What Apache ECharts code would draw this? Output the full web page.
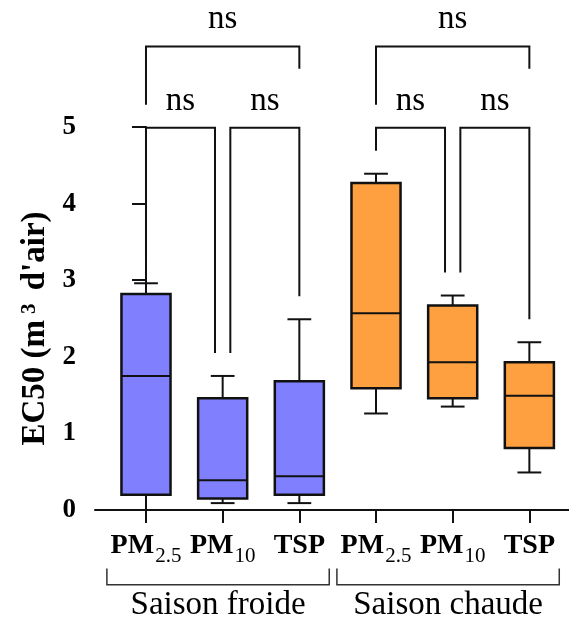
<!DOCTYPE html>
<html><head><meta charset="utf-8">
<script src="https://cdn.jsdelivr.net/npm/echarts@6/dist/echarts.min.js"></script>
<style>html,body{margin:0;padding:0;background:#fff}#c{width:569px;height:623px}</style>
</head><body><div id="c"></div>
<script>
// ---- data ----
const categories = ['PM2.5', 'PM10', 'TSP', 'PM2.5', 'PM10', 'TSP'];
const seasonNames = ['Saison froide', 'Saison chaude'];
const seasonOfCategory = [0, 0, 0, 1, 1, 1];
const minValues    = [0.20, 0.09, 0.09, 1.26, 1.35, 0.49];
const q1Values     = [0.20, 0.15, 0.20, 1.59, 1.46, 0.81];
const medianValues = [1.75, 0.39, 0.44, 2.57, 1.93, 1.49];
const q3Values     = [2.82, 1.46, 1.68, 4.27, 2.67, 1.93];
const maxValues    = [2.96, 1.75, 2.49, 4.39, 2.80, 2.19];
const yTickValues  = [0, 1, 2, 3, 4, 5];
const comparisons  = [[0, 1, 'ns', 0], [1, 2, 'ns', 0], [0, 2, 'ns', 1],
                      [3, 4, 'ns', 0], [4, 5, 'ns', 0], [3, 5, 'ns', 1]];
const seasonGroups = [[0, 2], [3, 5]];

// ---- styles / layout ----
const FONT = '"Liberation Serif", "Times New Roman", serif';
const seasonColors = ['#8080FF', '#FFA040'];
const INK = '#111';
const BOX_W = 0.64, CAP_W = 0.31;

const boxData = categories.map((c, i) => [i, minValues[i], q1Values[i], medianValues[i], q3Values[i], maxValues[i]]);

function subLabel(s) {
  const m = s.match(/^([A-Za-z]+)(.*)$/);
  return '{b|' + m[1] + '}' + (m[2] ? '{s|' + m[2] + '}' : '');
}

const chart = echarts.init(document.getElementById('c'), null, {renderer: 'canvas'});
chart.setOption({
  animation: false,
  backgroundColor: '#fff',
  grid: {left: 95, right: 0, top: 127, bottom: 113, containLabel: false},
  xAxis: {
    type: 'value', min: -0.665, max: 5.517,
    splitLine: {show: false},
    axisLine: {show: true, onZero: false, lineStyle: {color: INK, width: 2}},
    axisTick: {show: true, length: 13, customValues: [0, 1, 2, 3, 4, 5], lineStyle: {color: INK, width: 2}},
    axisLabel: {
      customValues: [0, 1, 2, 3, 4, 5], margin: 22,
      formatter: v => subLabel(categories[Math.round(v)]),
      rich: {
        b: {fontFamily: FONT, fontWeight: 'bold', fontSize: 28, color: '#000', verticalAlign: 'top'},
        s: {fontFamily: FONT, fontSize: 21, color: '#000', verticalAlign: 'top', padding: [14, 0, 0, 1]}
      }
    }
  },
  yAxis: {
    type: 'value', min: 0, max: 5, interval: 1,
    splitLine: {show: false},
    axisLine: {show: true, lineStyle: {color: INK, width: 2}},
    axisTick: {show: true, length: 14, lineStyle: {color: INK, width: 2}},
    axisLabel: {margin: 19, fontFamily: FONT, fontWeight: 'bold', fontSize: 27, color: '#000',
      formatter: v => yTickValues.indexOf(v) >= 0 ? String(v) : ''},
    name: '{t|EC50 (m}{p|3}{t| d\'air)}',
    nameLocation: 'middle', nameGap: 43, nameRotate: 90,
    nameTextStyle: {
      padding: [0, 20, 0, 0],
      rich: {
        t: {fontFamily: FONT, fontWeight: 'bold', fontSize: 33, color: '#000', verticalAlign: 'bottom'},
        p: {fontFamily: FONT, fontWeight: 'bold', fontSize: 21, color: '#000', verticalAlign: 'top', padding: [0, 5, 0, 6]}
      }
    }
  },
  series: [
    {
      type: 'custom', name: 'box',
      data: boxData,
      encode: {x: 0, y: [1, 2, 3, 4, 5]},
      renderItem(params, api) {
        const x = api.value(0);
        const pMin = api.coord([x, api.value(1)]);
        const pQ1 = api.coord([x, api.value(2)]);
        const pMed = api.coord([x, api.value(3)]);
        const pQ3 = api.coord([x, api.value(4)]);
        const pMax = api.coord([x, api.value(5)]);
        const hb = api.size([BOX_W, 0])[0] / 2;
        const hc = api.size([CAP_W, 0])[0] / 2;
        const color = seasonColors[seasonOfCategory[params.dataIndex]];
        const ls = {stroke: INK, lineWidth: 2};
        return {type: 'group', children: [
          {type: 'line', shape: {x1: pMax[0], y1: pMax[1], x2: pQ3[0], y2: pQ3[1]}, style: ls},
          {type: 'line', shape: {x1: pMin[0], y1: pMin[1], x2: pQ1[0], y2: pQ1[1]}, style: ls},
          {type: 'line', shape: {x1: pMax[0] - hc, y1: pMax[1], x2: pMax[0] + hc, y2: pMax[1]}, style: ls},
          {type: 'line', shape: {x1: pMin[0] - hc, y1: pMin[1], x2: pMin[0] + hc, y2: pMin[1]}, style: ls},
          {type: 'rect', shape: {x: pQ3[0] - hb, y: pQ3[1], width: 2 * hb, height: pQ1[1] - pQ3[1]},
            style: {fill: color, stroke: INK, lineWidth: 2.5}},
          {type: 'line', shape: {x1: pMed[0] - hb, y1: pMed[1], x2: pMed[0] + hb, y2: pMed[1]}, style: ls}
        ]};
      }
    },
    {
      type: 'custom', name: 'significance',
      data: comparisons.map(c => [c[0], c[1]]),
      encode: {x: [0, 1]},
      renderItem(params, api) {
        const c = comparisons[params.dataIndex];
        const a = c[0], b = c[1], level = c[3];
        let xa = a, xb = b, yLine, ya, yb, yText;
        if (level === 0) {
          xa = a + (a % 3 === 1 ? 0.1 : 0);
          xb = b - (b % 3 === 1 ? 0.1 : 0);
          yLine = 4.99; ya = maxValues[a] + 0.3; yb = maxValues[b] + 0.3; yText = 5.34;
        } else {
          yLine = 6.05; ya = 5.29; yb = 5.76; yText = 6.41;
        }
        const p1 = api.coord([xa, ya]), p2 = api.coord([xa, yLine]);
        const p3 = api.coord([xb, yLine]), p4 = api.coord([xb, yb]);
        const pt = api.coord([(xa + xb) / 2, yText]);
        return {type: 'group', children: [
          {type: 'polyline', shape: {points: [p1, p2, p3, p4]}, style: {stroke: INK, lineWidth: 2, fill: null}},
          {type: 'text', x: pt[0], y: pt[1], style: {text: c[2], fontFamily: FONT, fontSize: 33, fill: '#000', align: 'center', verticalAlign: 'middle'}}
        ]};
      }
    },
    {
      type: 'custom', name: 'seasons',
      data: seasonGroups,
      encode: {x: [0, 1]},
      renderItem(params, api) {
        const g = seasonGroups[params.dataIndex];
        const xl = g[0] - 0.51, xr = g[1] + 0.39;
        const p1 = api.coord([xl, -0.765]), p2 = api.coord([xl, -0.975]);
        const p3 = api.coord([xr, -0.975]), p4 = api.coord([xr, -0.765]);
        const pt = api.coord([(xl + xr) / 2, -1.25]);
        return {type: 'group', children: [
          {type: 'polyline', shape: {points: [p1, p2, p3, p4]}, style: {stroke: '#333', lineWidth: 1.5, fill: null}},
          {type: 'text', x: pt[0], y: pt[1], style: {text: seasonNames[params.dataIndex], fontFamily: FONT, fontSize: 33, fill: '#000', align: 'center', verticalAlign: 'middle'}}
        ]};
      }
    }
  ]
});
</script></body></html>
